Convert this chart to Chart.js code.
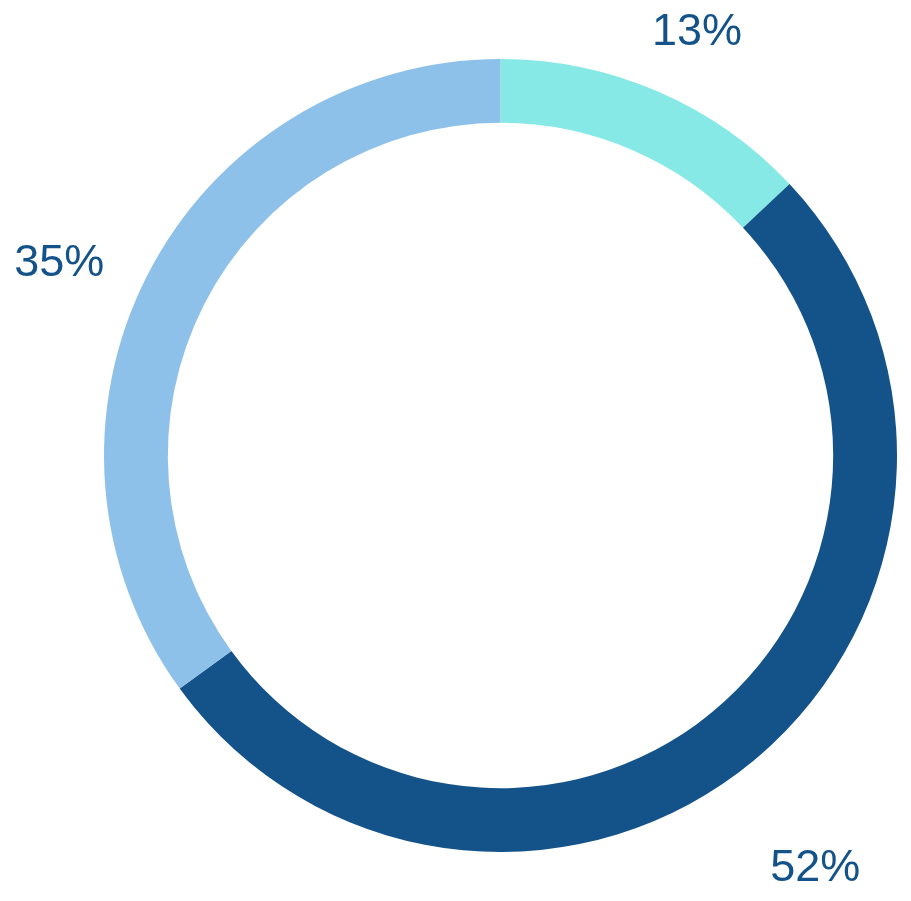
<!DOCTYPE html>
<html>
<head>
<meta charset="utf-8">
<script src="https://cdn.jsdelivr.net/npm/chart.js@4.4.1/dist/chart.umd.min.js"></script>
<style>
html,body{margin:0;padding:0;background:#fff;}
#wrap{width:911px;height:901px;position:relative;}
</style>
</head>
<body>
<div id="wrap"><canvas id="c" width="911" height="901"></canvas></div>
<script>
const categories = ["A", "B", "C"];
const values = [13, 52, 35];
const labelsText = ["13%", "52%", "35%"];
const colors = ["#87E9E6", "#14538A", "#8EC1EA"];

const labelPlugin = {
  id: 'outLabels',
  afterDatasetsDraw(chart, args, opts) {
    const ctx = chart.ctx;
    const meta = chart.getDatasetMeta(0);
    ctx.save();
    ctx.font = opts.font;
    ctx.fillStyle = opts.color;
    ctx.textAlign = 'center';
    ctx.textBaseline = 'middle';
    meta.data.forEach((arc, i) => {
      const p = arc.getProps(['x','y','startAngle','endAngle','outerRadius'], true);
      const mid = (p.startAngle + p.endAngle) / 2;
      const off = opts.offsets[i];
      const x = p.x + Math.cos(mid) * p.outerRadius + off[0];
      const y = p.y + Math.sin(mid) * p.outerRadius + off[1];
      ctx.fillText(labelsText[i], x, y);
    });
    ctx.restore();
  }
};

new Chart(document.getElementById('c'), {
  type: 'doughnut',
  data: {
    labels: categories,
    datasets: [{
      data: values,
      backgroundColor: colors,
      borderWidth: 0,
      hoverOffset: 0
    }]
  },
  options: {
    responsive: false,
    animation: false,
    cutout: '83.9%',
    layout: { padding: { left: 104, right: 14, top: 59, bottom: 49 } },
    plugins: {
      legend: { display: false },
      tooltip: { enabled: false },
      outLabels: {
        font: '45px "Liberation Sans", Arial, sans-serif',
        color: '#14538A',
        offsets: [[39, -59], [62, 108], [-88, -12]]
      }
    }
  },
  plugins: [labelPlugin]
});
</script>
</body>
</html>
